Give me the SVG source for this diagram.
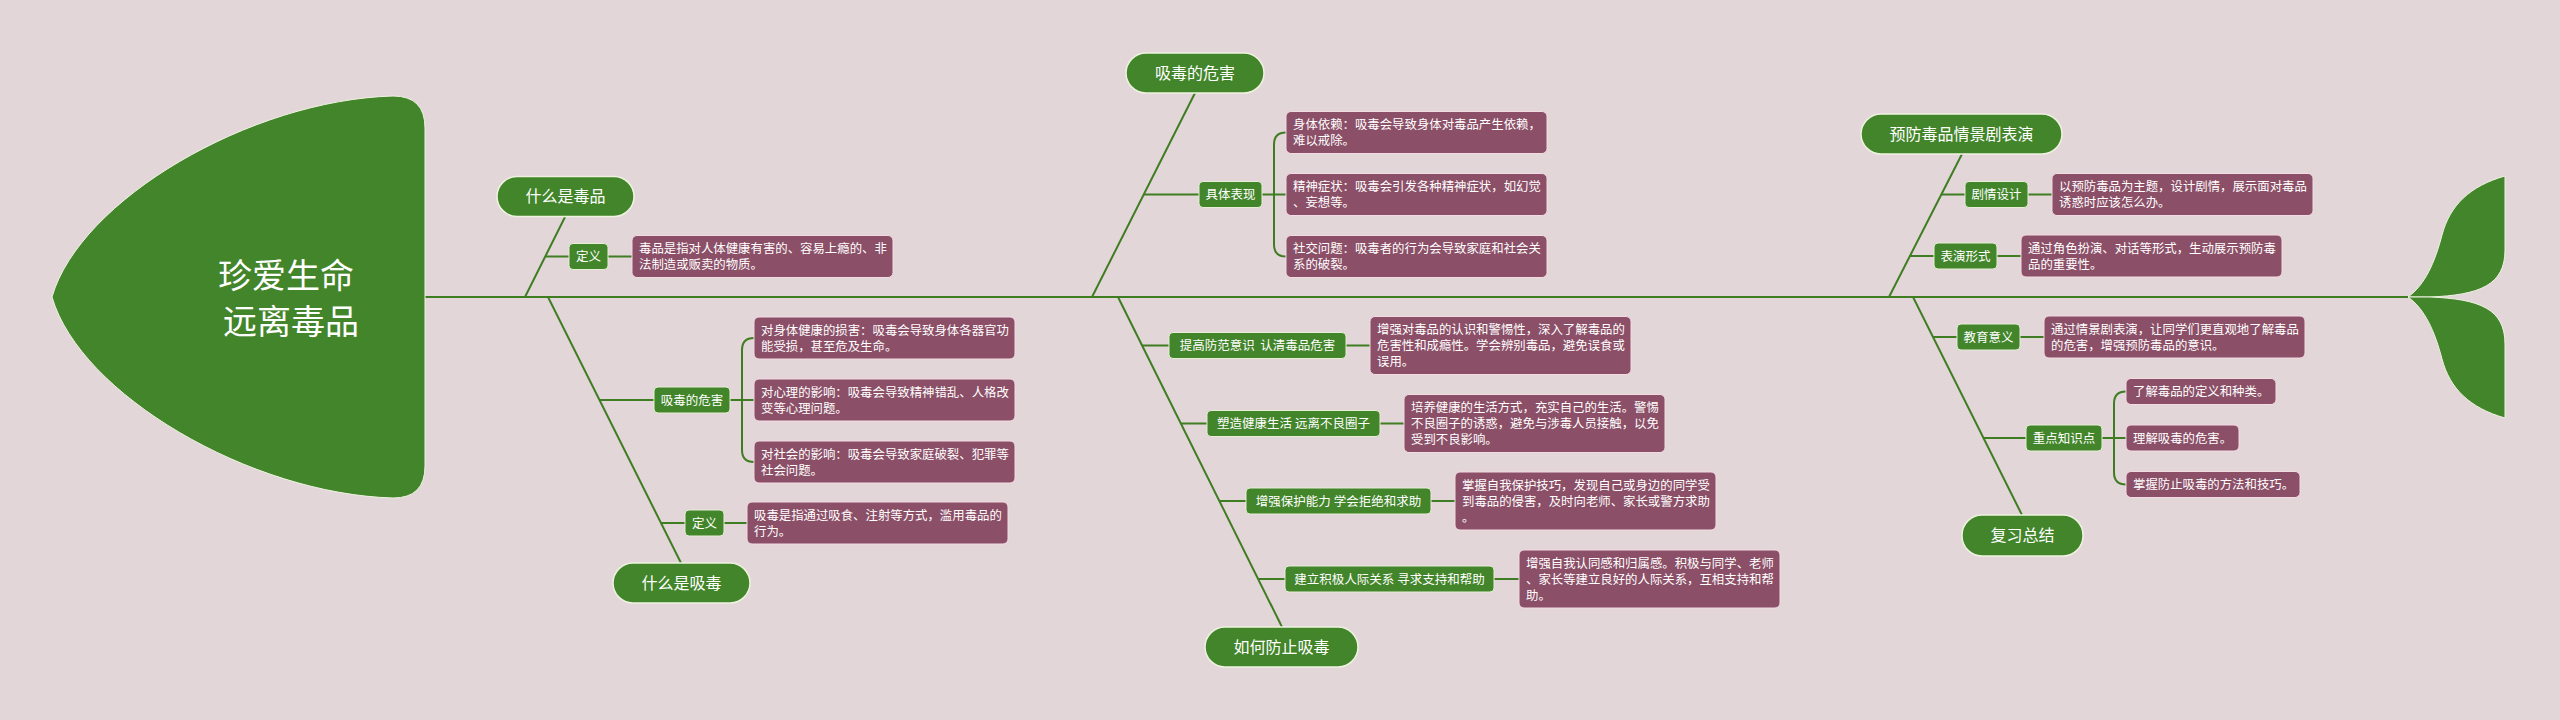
<svg xmlns="http://www.w3.org/2000/svg" width="2560" height="720" viewBox="0 0 2560 720">
<style>
text{font-family:"Noto Sans CJK SC","Noto Sans",sans-serif;fill:#ffffff}
.pill{fill:#43852a;stroke:#eef3e0;stroke-width:1.5}
.sub{fill:#43852a;stroke:#e6eed6;stroke-width:1}
.box{fill:#8b4f67;stroke:#f3dbe3;stroke-width:1}
.ln{stroke:#3f7d22;stroke-width:2;fill:none}
.pt{font-size:16px;text-anchor:middle}
.st{font-size:12.5px;text-anchor:middle}
.bt{font-size:12.4px}
.ht{font-size:34px;text-anchor:middle}
</style>
<rect width="2560" height="720" fill="#e3d6d9"/>

<g id="connectors">
<path class="ln" d="M425,297 H2410" stroke-width="2.5"/>
<path class="ln" d="M525,297 L565,217"/>
<path class="ln" d="M545.5,256.5 H569 M608,256.5 H632"/>
<path class="ln" d="M548,297 L681,563"/>
<path class="ln" d="M599.5,400 H654"/>
<path class="ln" d="M730,400 H754 M742,400 V350 Q742,338 754,338 M742,400 V450 Q742,462 754,462"/>
<path class="ln" d="M661,523 H685 M724,523 H747"/>
<path class="ln" d="M1092,297 L1195,93"/>
<path class="ln" d="M1143.7,194.5 H1199"/>
<path class="ln" d="M1262,194.5 H1286 M1274,194.5 V144.5 Q1274,132.5 1286,132.5 M1274,194.5 V244.5 Q1274,256.5 1286,256.5"/>
<path class="ln" d="M1118,297 L1282,627"/>
<path class="ln" d="M1142,345.5 H1169 M1346,345.5 H1370"/>
<path class="ln" d="M1181,423.5 H1207 M1380,423.5 H1404"/>
<path class="ln" d="M1219.5,501 H1246 M1431,501 H1455"/>
<path class="ln" d="M1258,579 H1285 M1494,579 H1519"/>
<path class="ln" d="M1889,297 L1962,154"/>
<path class="ln" d="M1941.3,194.5 H1965 M2028,194.5 H2052"/>
<path class="ln" d="M1910,256 H1934 M1997,256 H2021"/>
<path class="ln" d="M1913,297 L2022,515"/>
<path class="ln" d="M1933,337 H1957 M2020,337 H2044"/>
<path class="ln" d="M1983.5,438 H2026"/>
<path class="ln" d="M2102,438 H2126 M2114,438 V403.5 Q2114,391.5 2126,391.5 M2114,438 V472.5 Q2114,484.5 2126,484.5"/>
</g>

<g id="head">
<path d="M393,96 C250,100 80,200 52,297 C80,394 250,494 393,498 Q425,498 425,466 L425,128 Q425,96 393,96 Z" fill="#43852a" stroke="#eef3e0" stroke-width="1"/>
<text class="ht" x="286" y="288">珍爱生命</text>
<text class="ht" x="291" y="334">远离毒品</text>
</g>

<g id="tail">
<path d="M2408,297 C2425,285 2435,262 2442,235 C2450,205 2470,186 2505,176 L2505,250 C2505,285 2480,295 2430,297 Z" fill="#43852a" stroke="#eef3e0" stroke-width="1"/>
<path d="M2408,297 C2425,309 2435,332 2442,359 C2450,389 2470,408 2505,418 L2505,344 C2505,309 2480,299 2430,297 Z" fill="#43852a" stroke="#eef3e0" stroke-width="1"/>
</g>

<g id="t1">
<rect class="pill" x="497" y="176.5" width="137" height="40" rx="20"/>
<text class="pt" x="565.5" y="202">什么是毒品</text>
</g>
<g id="t1-def">
<rect class="sub" x="569" y="243.5" width="39" height="26" rx="4"/>
<text class="st" x="588.5" y="261">定义</text>
</g>
<g id="t1-def-d">
<rect class="box" x="632" y="235.5" width="261" height="42" rx="5"/>
<text class="bt" x="639" y="253">毒品是指对人体健康有害的、容易上瘾的、非</text>
<text class="bt" x="639" y="269">法制造或贩卖的物质。</text>
</g>

<g id="b1">
<rect class="pill" x="613" y="563" width="137" height="40" rx="20"/>
<text class="pt" x="681.5" y="588.5">什么是吸毒</text>
</g>
<g id="b1-harm">
<rect class="sub" x="654" y="387" width="76" height="26" rx="4"/>
<text class="st" x="692" y="404.5">吸毒的危害</text>
</g>
<g id="b1-harm-1">
<rect class="box" x="754" y="317" width="261" height="42" rx="5"/>
<text class="bt" x="761" y="334.5">对身体健康的损害：吸毒会导致身体各器官功</text>
<text class="bt" x="761" y="350.5">能受损，甚至危及生命。</text>
</g>
<g id="b1-harm-2">
<rect class="box" x="754" y="379" width="261" height="42" rx="5"/>
<text class="bt" x="761" y="396.5">对心理的影响：吸毒会导致精神错乱、人格改</text>
<text class="bt" x="761" y="412.5">变等心理问题。</text>
</g>
<g id="b1-harm-3">
<rect class="box" x="754" y="441" width="261" height="42" rx="5"/>
<text class="bt" x="761" y="458.5">对社会的影响：吸毒会导致家庭破裂、犯罪等</text>
<text class="bt" x="761" y="474.5">社会问题。</text>
</g>
<g id="b1-def">
<rect class="sub" x="685" y="510" width="39" height="26" rx="4"/>
<text class="st" x="704.5" y="527.5">定义</text>
</g>
<g id="b1-def-d">
<rect class="box" x="747" y="502" width="261" height="42" rx="5"/>
<text class="bt" x="754" y="519.5">吸毒是指通过吸食、注射等方式，滥用毒品的</text>
<text class="bt" x="754" y="535.5">行为。</text>
</g>

<g id="t2">
<rect class="pill" x="1126" y="53" width="138" height="40" rx="20"/>
<text class="pt" x="1195" y="78.5">吸毒的危害</text>
</g>
<g id="t2-sub">
<rect class="sub" x="1199" y="181.5" width="63" height="26" rx="4"/>
<text class="st" x="1230.5" y="199">具体表现</text>
</g>
<g id="t2-d1">
<rect class="box" x="1286" y="111.5" width="261" height="42" rx="5"/>
<text class="bt" x="1293" y="129">身体依赖：吸毒会导致身体对毒品产生依赖，</text>
<text class="bt" x="1293" y="145">难以戒除。</text>
</g>
<g id="t2-d2">
<rect class="box" x="1286" y="173.5" width="261" height="42" rx="5"/>
<text class="bt" x="1293" y="191">精神症状：吸毒会引发各种精神症状，如幻觉</text>
<text class="bt" x="1293" y="207">、妄想等。</text>
</g>
<g id="t2-d3">
<rect class="box" x="1286" y="235.5" width="261" height="42" rx="5"/>
<text class="bt" x="1293" y="253">社交问题：吸毒者的行为会导致家庭和社会关</text>
<text class="bt" x="1293" y="269">系的破裂。</text>
</g>

<g id="b2">
<rect class="pill" x="1205" y="627" width="153" height="40" rx="20"/>
<text class="pt" x="1281.5" y="652.5">如何防止吸毒</text>
</g>
<g id="b2-s1">
<rect class="sub" x="1169" y="332.5" width="177" height="26" rx="4"/>
<text class="st" x="1257.5" y="350" xml:space="preserve">提高防范意识  认清毒品危害</text>
</g>
<g id="b2-d1">
<rect class="box" x="1370" y="316.5" width="261" height="58" rx="5"/>
<text class="bt" x="1377" y="334">增强对毒品的认识和警惕性，深入了解毒品的</text>
<text class="bt" x="1377" y="350">危害性和成瘾性。学会辨别毒品，避免误食或</text>
<text class="bt" x="1377" y="366">误用。</text>
</g>
<g id="b2-s2">
<rect class="sub" x="1207" y="410.5" width="173" height="26" rx="4"/>
<text class="st" x="1293.5" y="428">塑造健康生活 远离不良圈子</text>
</g>
<g id="b2-d2">
<rect class="box" x="1404" y="394.5" width="261" height="58" rx="5"/>
<text class="bt" x="1411" y="412">培养健康的生活方式，充实自己的生活。警惕</text>
<text class="bt" x="1411" y="428">不良圈子的诱惑，避免与涉毒人员接触，以免</text>
<text class="bt" x="1411" y="444">受到不良影响。</text>
</g>
<g id="b2-s3">
<rect class="sub" x="1246" y="488" width="185" height="26" rx="4"/>
<text class="st" x="1338.5" y="505.5">增强保护能力 学会拒绝和求助</text>
</g>
<g id="b2-d3">
<rect class="box" x="1455" y="472" width="261" height="58" rx="5"/>
<text class="bt" x="1462" y="489.5">掌握自我保护技巧，发现自己或身边的同学受</text>
<text class="bt" x="1462" y="505.5">到毒品的侵害，及时向老师、家长或警方求助</text>
<text class="bt" x="1462" y="521.5">。</text>
</g>
<g id="b2-s4">
<rect class="sub" x="1285" y="566" width="209" height="26" rx="4"/>
<text class="st" x="1389.5" y="583.5">建立积极人际关系 寻求支持和帮助</text>
</g>
<g id="b2-d4">
<rect class="box" x="1519" y="550" width="261" height="58" rx="5"/>
<text class="bt" x="1526" y="567.5">增强自我认同感和归属感。积极与同学、老师</text>
<text class="bt" x="1526" y="583.5">、家长等建立良好的人际关系，互相支持和帮</text>
<text class="bt" x="1526" y="599.5">助。</text>
</g>

<g id="t3">
<rect class="pill" x="1861" y="114" width="201" height="40" rx="20"/>
<text class="pt" x="1961.5" y="139.5">预防毒品情景剧表演</text>
</g>
<g id="t3-s1">
<rect class="sub" x="1965" y="181.5" width="63" height="26" rx="4"/>
<text class="st" x="1996.5" y="199">剧情设计</text>
</g>
<g id="t3-d1">
<rect class="box" x="2052" y="173.5" width="261" height="42" rx="5"/>
<text class="bt" x="2059" y="191">以预防毒品为主题，设计剧情，展示面对毒品</text>
<text class="bt" x="2059" y="207">诱惑时应该怎么办。</text>
</g>
<g id="t3-s2">
<rect class="sub" x="1934" y="243" width="63" height="26" rx="4"/>
<text class="st" x="1965.5" y="260.5">表演形式</text>
</g>
<g id="t3-d2">
<rect class="box" x="2021" y="235" width="261" height="42" rx="5"/>
<text class="bt" x="2028" y="252.5">通过角色扮演、对话等形式，生动展示预防毒</text>
<text class="bt" x="2028" y="268.5">品的重要性。</text>
</g>

<g id="b3">
<rect class="pill" x="1962" y="515" width="121" height="41" rx="20"/>
<text class="pt" x="2022.5" y="541">复习总结</text>
</g>
<g id="b3-s1">
<rect class="sub" x="1957" y="324" width="63" height="26" rx="4"/>
<text class="st" x="1988.5" y="341.5">教育意义</text>
</g>
<g id="b3-d1">
<rect class="box" x="2044" y="316" width="261" height="42" rx="5"/>
<text class="bt" x="2051" y="333.5">通过情景剧表演，让同学们更直观地了解毒品</text>
<text class="bt" x="2051" y="349.5">的危害，增强预防毒品的意识。</text>
</g>
<g id="b3-s2">
<rect class="sub" x="2026" y="425" width="76" height="26" rx="4"/>
<text class="st" x="2064" y="442.5">重点知识点</text>
</g>
<g id="b3-k1">
<rect class="box" x="2126" y="378.5" width="150" height="26" rx="5"/>
<text class="bt" x="2133" y="396">了解毒品的定义和种类。</text>
</g>
<g id="b3-k2">
<rect class="box" x="2126" y="425" width="113" height="26" rx="5"/>
<text class="bt" x="2133" y="442.5">理解吸毒的危害。</text>
</g>
<g id="b3-k3">
<rect class="box" x="2126" y="471.5" width="174" height="26" rx="5"/>
<text class="bt" x="2133" y="489">掌握防止吸毒的方法和技巧。</text>
</g>
</svg>
